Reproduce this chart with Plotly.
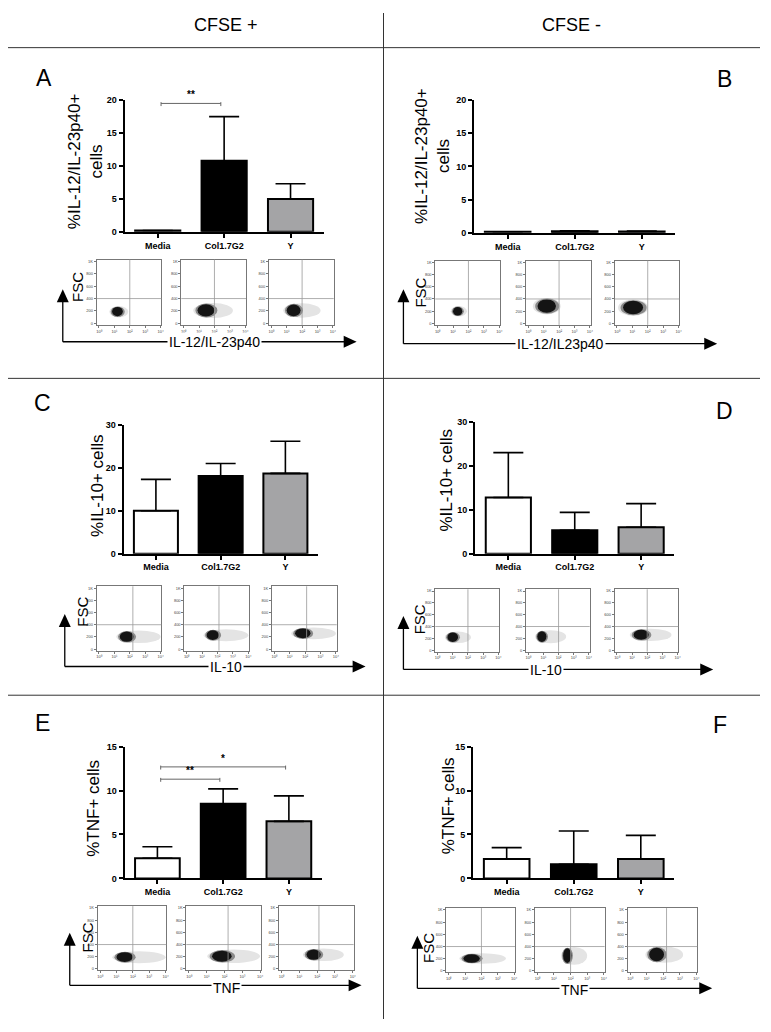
import plotly.graph_objects as go

# page body has an 8px margin: the figure is sized to fill the window exactly
OFF = 8
W, H = 771 - 2 * OFF, 1032 - 2 * OFF

# ---------------- data ----------------
categories = ["Media", "Col1.7G2", "Y"]
bar_colors = ["white", "black", "#a4a4a6"]

A_mean = [0.2, 10.8, 5.0]
A_upper = [0.2, 17.5, 7.3]
B_mean = [0.15, 0.25, 0.2]
B_upper = [0.15, 0.3, 0.25]
C_mean = [10.0, 18.1, 18.7]
C_upper = [17.3, 21.0, 26.2]
D_mean = [12.8, 5.3, 6.0]
D_upper = [23.0, 9.4, 11.4]
E_mean = [2.3, 8.5, 6.5]
E_upper = [3.6, 10.2, 9.4]
F_mean = [2.2, 1.6, 2.2]
F_upper = [3.5, 5.4, 4.9]

A_ticks = [0, 5, 10, 15, 20]
C_ticks = [0, 10, 20, 30]
E_ticks = [0, 5, 10, 15]

# significance brackets: (from, to, label, level)
A_sig = [(0, 1, "**", 19.5)]
E_sig = [(0, 1, "**", 11.3), (0, 2, "*", 12.7)]

# flow cytometry clouds: log10 centre, FSC centre, half-widths, tail end, gate
A_cx = [1.2, 1.45, 1.45]; A_cy = [190, 210, 210]; A_wx = [0.35, 0.55, 0.45]; A_wy = [75, 100, 95]; A_tail = [1.9, 3.2, 3.2]; A_gate = [2.0, 2.0, 2.0]
B_cx = [1.3, 1.2, 1.05]; B_cy = [200, 285, 260]; B_wx = [0.3, 0.6, 0.65]; B_wy = [70, 110, 110]; B_tail = [1.9, 2.0, 2.0]; B_gate = [2.0, 2.0, 2.0]
C_cx = [1.8, 1.7, 1.85]; C_cy = [205, 230, 260]; C_wx = [0.45, 0.4, 0.5]; C_wy = [85, 80, 80]; C_tail = [4.0, 4.0, 4.0]; C_gate = [2.2, 2.1, 2.1]
D_cx = [1.0, 0.9, 1.6]; D_cy = [220, 230, 260]; D_wx = [0.35, 0.3, 0.5]; D_wy = [80, 90, 85]; D_tail = [2.2, 2.5, 3.6]; D_gate = [2.0, 2.0, 2.0]
E_cx = [1.5, 1.85, 1.8]; E_cy = [195, 210, 235]; E_wx = [0.5, 0.55, 0.4]; E_wy = [80, 90, 85]; E_tail = [4.0, 4.0, 3.5]; E_gate = [2.0, 2.2, 2.1]
F_cx = [1.4, 1.8, 1.6]; F_cy = [205, 250, 270]; F_wx = [0.5, 0.25, 0.45]; F_wy = [70, 120, 110]; F_tail = [3.5, 3.0, 3.2]; F_gate = [2.0, 2.0, 2.2]

flow_xticks = [0, 1, 2, 3, 4]
flow_xlabels = ["10⁰", "10¹", "10²", "10³", "10⁴"]
flow_yticks = [0, 200, 400, 600, 800, 1000]
flow_ylabels = ["0", "200", "400", "600", "800", "1K"]

# ---------------- layout helpers (window pixel -> paper) ----------------
def px(x):
    return (x - OFF) / W


def py(y):
    return 1 - (y - OFF) / H


FONT = "Liberation Sans, Arial, Helvetica, sans-serif"

fig = go.Figure()
layout = {}
shapes = []
annotations = []
axis_n = [0]


def new_axes():
    axis_n[0] += 1
    n = axis_n[0]
    return n, ("x" if n == 1 else f"x{n}"), ("y" if n == 1 else f"y{n}"), \
        ("xaxis" if n == 1 else f"xaxis{n}"), ("yaxis" if n == 1 else f"yaxis{n}")


def bar_panel(box, means, uppers, yticks, sig):
    x0, y0, x1, y1 = box
    n, xr, yr, xk, yk = new_axes()
    fig.add_trace(go.Bar(
        x=[0, 1, 2], y=means, width=0.68,
        marker=dict(color=bar_colors, line=dict(color="black", width=2)),
        error_y=dict(type="data", symmetric=False,
                     array=[u - m for u, m in zip(uppers, means)],
                     arrayminus=[0, 0, 0], color="black", thickness=1.6, width=15),
        xaxis=xr, yaxis=yr, showlegend=False, hoverinfo="skip"))
    tf = dict(family=FONT, size=9, color="black", weight="bold")
    layout[xk] = dict(domain=[px(x0), px(x1)], range=[-0.5, 2.5], anchor=yr,
                      tickvals=[0, 1, 2], ticktext=categories, showline=True,
                      linecolor="black", linewidth=2, ticks="outside", ticklen=4,
                      tickwidth=1.5, tickcolor="black", tickfont=tf,
                      showgrid=False, zeroline=False, fixedrange=True)
    layout[yk] = dict(domain=[py(y1), py(y0)], range=[0, yticks[-1]], anchor=xr,
                      tickvals=yticks, showline=True, linecolor="black", linewidth=2,
                      ticks="outside", ticklen=4, tickwidth=1.5, tickcolor="black",
                      tickfont=tf, showgrid=False, zeroline=False, fixedrange=True)
    for a, b, lab, lev in sig:
        shapes.append(dict(type="line", xref=xr, yref=yr, x0=a + 0.05, x1=b - 0.05,
                           y0=lev, y1=lev, line=dict(color="#666", width=1)))
        for xe in (a + 0.05, b - 0.05):
            shapes.append(dict(type="line", xref=xr, yref=yr, x0=xe, x1=xe,
                               y0=lev - yticks[-1] * 0.02, y1=lev + yticks[-1] * 0.01,
                               line=dict(color="#666", width=1)))
        annotations.append(dict(xref=xr, yref=yr, x=(a + b) / 2, y=lev, text=lab,
                                showarrow=False, yanchor="bottom", yshift=1,
                                font=dict(family=FONT, size=10, color="black", weight="bold")))


def flow_panel(boxes, ytop, ybot, cx, cy, wx, wy, tail, gate):
    for i, (bx0, bx1) in enumerate(boxes):
        n, xr, yr, xk, yk = new_axes()
        fig.add_trace(go.Scatter(x=[cx[i]], y=[cy[i]], mode="markers",
                                 marker=dict(size=1, color="rgba(0,0,0,0)"),
                                 xaxis=xr, yaxis=yr, showlegend=False, hoverinfo="skip"))
        tf = dict(family=FONT, size=4, color="#444")
        layout[xk] = dict(domain=[px(bx0), px(bx1)], range=[-0.15, 4.05], anchor=yr,
                          tickvals=flow_xticks, ticktext=flow_xlabels, showline=True,
                          mirror=True, linecolor="#777", linewidth=0.8, ticks="outside",
                          ticklen=2, tickwidth=0.6, tickcolor="#777", tickfont=tf,
                          showgrid=False, zeroline=False, fixedrange=True)
        layout[yk] = dict(domain=[py(ybot), py(ytop)], range=[-25, 1030], anchor=xr,
                          tickvals=flow_yticks, ticktext=flow_ylabels, showline=True,
                          mirror=True, linecolor="#777", linewidth=0.8, ticks="outside",
                          ticklen=2, tickwidth=0.6, tickcolor="#777", tickfont=tf,
                          showgrid=False, zeroline=False, fixedrange=True)
        # sparse tail / halo
        shapes.append(dict(type="circle", xref=xr, yref=yr, layer="below",
                           x0=cx[i] - wx[i] * 1.5, x1=max(tail[i], cx[i] + wx[i] * 1.5),
                           y0=cy[i] - wy[i] * 1.25, y1=cy[i] + wy[i] * 1.2,
                           fillcolor="#e4e4e4", line=dict(width=0)))
        shapes.append(dict(type="circle", xref=xr, yref=yr, layer="below",
                           x0=cx[i] - wx[i] * 1.25, x1=cx[i] + wx[i] * 1.35,
                           y0=cy[i] - wy[i] * 1.15, y1=cy[i] + wy[i] * 1.1,
                           fillcolor="#8a8a8a", line=dict(width=0)))
        shapes.append(dict(type="circle", xref=xr, yref=yr, layer="below",
                           x0=cx[i] - wx[i], x1=cx[i] + wx[i],
                           y0=cy[i] - wy[i], y1=cy[i] + wy[i],
                           fillcolor="#141414", line=dict(width=0)))
        # gates
        shapes.append(dict(type="line", xref=xr, yref=f"{yr} domain", x0=gate[i], x1=gate[i],
                           y0=0, y1=1, line=dict(color="#999", width=0.8)))
        shapes.append(dict(type="line", xref=f"{xr} domain", yref=yr, x0=0, x1=1,
                           y0=400, y1=400, line=dict(color="#999", width=0.8)))


def arrow_frame(xv, ybase, ytip, xtip, label, lab_x, lab_y, fsc_x, fsc_y):
    shapes.append(dict(type="line", xref="paper", yref="paper", x0=px(xv), x1=px(xv),
                       y0=py(ybase), y1=py(ytip + 10), line=dict(color="black", width=1.3)))
    shapes.append(dict(type="line", xref="paper", yref="paper", x0=px(xv), x1=px(xtip - 10),
                       y0=py(ybase), y1=py(ybase), line=dict(color="black", width=1.3)))
    shapes.append(dict(type="path", xref="paper", yref="paper", fillcolor="black",
                       line=dict(width=0),
                       path=f"M {px(xv)} {py(ytip)} L {px(xv - 6)} {py(ytip + 13)} L {px(xv + 6)} {py(ytip + 13)} Z"))
    shapes.append(dict(type="path", xref="paper", yref="paper", fillcolor="black",
                       line=dict(width=0),
                       path=f"M {px(xtip)} {py(ybase)} L {px(xtip - 13)} {py(ybase - 6)} L {px(xtip - 13)} {py(ybase + 6)} Z"))
    annotations.append(dict(xref="paper", yref="paper", x=px(lab_x), y=py(lab_y), text=label,
                            showarrow=False, bgcolor="white", borderpad=1,
                            xanchor="center", yanchor="middle",
                            font=dict(family=FONT, size=14, color="black")))
    annotations.append(dict(xref="paper", yref="paper", x=px(fsc_x), y=py(fsc_y), text="FSC",
                            showarrow=False, textangle=-90, xanchor="center", yanchor="middle",
                            font=dict(family=FONT, size=15, color="black")))


def text(x, y, s, size, angle=0):
    annotations.append(dict(xref="paper", yref="paper", x=px(x), y=py(y), text=s,
                            showarrow=False, textangle=angle, xanchor="center",
                            yanchor="middle", font=dict(family=FONT, size=size, color="black")))


# ---------------- panels ----------------
bar_panel((125, 96, 325, 229), A_mean, A_upper, A_ticks, A_sig)
bar_panel((476, 96, 678, 230), B_mean, B_upper, A_ticks, [])
bar_panel((124, 424, 319, 554), C_mean, C_upper, C_ticks, [])
bar_panel((477, 421, 677, 554), D_mean, D_upper, C_ticks, [])
bar_panel((125, 749, 323, 882), E_mean, E_upper, E_ticks, E_sig)
bar_panel((475, 749, 677, 882), F_mean, F_upper, E_ticks, [])

flow_panel([(97, 162), (182, 247), (270, 335)], 257, 323, A_cx, A_cy, A_wx, A_wy, A_tail, A_gate)
flow_panel([(437, 502), (528, 593), (617, 682)], 258, 323, B_cx, B_cy, B_wx, B_wy, B_tail, B_gate)
flow_panel([(97, 162), (185, 250), (273, 338)], 587, 652, C_cx, C_cy, C_wx, C_wy, C_tail, C_gate)
flow_panel([(437, 501), (528, 592), (617, 681)], 590, 653, D_cx, D_cy, D_wx, D_wy, D_tail, D_gate)
flow_panel([(98, 167), (187, 262), (280, 355)], 910, 975, E_cx, E_cy, E_wx, E_wy, E_tail, E_gate)
flow_panel([(448, 517), (537, 607), (630, 700)], 912, 977, F_cx, F_cy, F_wx, F_wy, F_tail, F_gate)

arrow_frame(63, 340, 287, 358, "IL-12/IL-23p40", 215, 340, 78, 285)
arrow_frame(405, 342, 287, 720, "IL-12/IL23p40", 563, 342, 422, 290)
arrow_frame(65, 668, 615, 367, "IL-10", 227, 669, 82, 613)
arrow_frame(405, 671, 617, 716, "IL-10", 548, 672, 422, 620)
arrow_frame(70, 990, 937, 363, "TNF", 227, 993, 88, 942)
arrow_frame(419, 993, 940, 715, "TNF", 577, 995, 430, 952)

# y-axis titles
text(86, 158, "%IL-12/IL-23p40+<br>cells", 17, -90)
text(434, 152, "%IL-12/IL-23p40+<br>cells", 17, -90)
text(98, 485, "%IL-10+ cells", 17, -90)
text(448, 480, "%IL-10+ cells", 17, -90)
text(93, 811, "%TNF+ cells", 17, -90)
text(450, 809, "%TNF+ cells", 17, -90)

# panel letters and headers
for L, (lx, ly) in zip("ABCDEF", [(44, 74), (727, 75), (43, 402), (727, 410), (43, 725), (723, 727)]):
    text(lx, ly, L, 23)
text(227, 20, "CFSE +", 18)
text(574, 20, "CFSE -", 18)

# separators
for yy in (43, 377, 697):
    shapes.append(dict(type="line", xref="paper", yref="paper", x0=px(8), x1=px(763),
                       y0=py(yy), y1=py(yy), line=dict(color="#333", width=1)))
shapes.append(dict(type="line", xref="paper", yref="paper", x0=px(385), x1=px(385),
                   y0=py(8), y1=py(1024), line=dict(color="#333", width=1)))

fig.update_layout(width=W, height=H, margin=dict(l=0, r=0, t=0, b=0),
                  paper_bgcolor="white", plot_bgcolor="white",
                  shapes=shapes, annotations=annotations, **layout)
fig.write_html("out.html")
